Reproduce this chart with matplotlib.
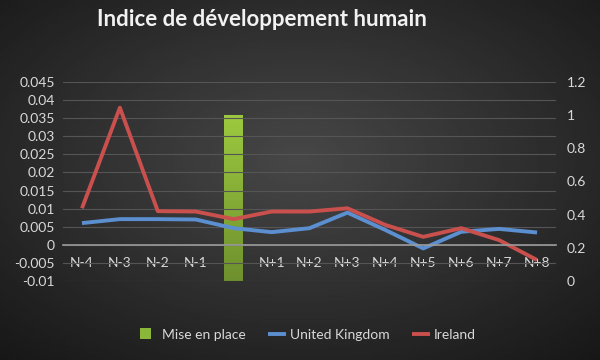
import numpy as np
import matplotlib
matplotlib.use('Agg')
import matplotlib.pyplot as plt
from matplotlib.ticker import FuncFormatter
from matplotlib.colors import LinearSegmentedColormap

plt.rcParams['font.family'] = ['Lato', 'DejaVu Sans']

# donnees
categories = ['N-4', 'N-3', 'N-2', 'N-1', '', 'N+1', 'N+2', 'N+3', 'N+4',
              'N+5', 'N+6', 'N+7', 'N+8']
uk = [0.0060, 0.0071, 0.0071, 0.0070, 0.0046, 0.0035, 0.0046, 0.0089,
      0.0041, -0.0010, 0.0036, 0.0044, 0.0034]
ireland = [0.0101, 0.0379, 0.0093, 0.0092, 0.0071, 0.0092, 0.0092, 0.0101,
           0.0055, 0.0022, 0.0046, 0.0013, -0.0042]
mise_idx = 4
mise_val = 1.0

txt = '#d9d9d9'
grid = '#555555'

fig = plt.figure(figsize=(6, 3.6), dpi=100)

# fond en degrade radial
bg = fig.add_axes([0, 0, 1, 1], zorder=-10)
yy, xx = np.mgrid[-1:1:200j, -1:1:300j]
r = np.sqrt((xx * 0.9) ** 2 + (yy * 0.9 + 0.1) ** 2)
bg.imshow(0.28 - 0.14 * np.clip(r, 0, 1.4), cmap='gray', vmin=0, vmax=1,
          aspect='auto', extent=[0, 1, 0, 1])
bg.axis('off')

ax = fig.add_axes([63 / 600, 1 - 281 / 360, (556 - 63) / 600, (281 - 82) / 360])
ax.patch.set_alpha(0)
ax2 = ax.twinx()
ax2.patch.set_alpha(0)

x = np.arange(len(categories))

# barre "mise en place" sur l'axe secondaire, avec degrade vert
bars = [0] * len(categories)
bars[mise_idx] = mise_val
bc = ax2.bar(x, bars, width=0.5, color='#8ab63a', zorder=1, label='Mise en place')
green = LinearSegmentedColormap.from_list('g', ['#6f902e', '#9cc93f'])
b = bc[mise_idx]
im = ax2.imshow(np.linspace(0, 1, 100).reshape(-1, 1), cmap=green, origin='lower',
                aspect='auto', zorder=1.1,
                extent=[b.get_x(), b.get_x() + b.get_width(), 0, b.get_height()])
im.set_clip_path(b)
ax2.set_ylim(0, 1.2)
ax2.set_xlim(-0.5, len(categories) - 0.5)
ax2.set_yticks(np.arange(0, 1.21, 0.2))
ax2.yaxis.set_major_formatter(FuncFormatter(lambda v, p: '%g' % round(v, 2)))

ax.set_zorder(ax2.get_zorder() + 1)
ax.plot(x, uk, color='#5b8fd0', lw=2.8, solid_capstyle='butt', label='United Kingdom')
ax.plot(x, ireland, color='#c9504d', lw=2.8, solid_capstyle='butt', label='Ireland')
ax.set_ylim(-0.01, 0.045)
ax.set_xlim(-0.5, len(categories) - 0.5)
ax.set_yticks(np.arange(-0.01, 0.0451, 0.005))
ax.yaxis.set_major_formatter(FuncFormatter(lambda v, p: '%g' % round(v, 4)))
ax.yaxis.grid(True, color=grid, lw=0.8)
ax.set_axisbelow(True)

ax.set_xticks(x)
ax.set_xticklabels(categories)
ax.spines['bottom'].set_position(('data', 0))
ax.spines['bottom'].set_color('#9a9a9a')
ax.spines['bottom'].set_linewidth(1.2)
for s in ['top', 'left', 'right']:
    ax.spines[s].set_visible(False)
for s in ['top', 'left', 'right', 'bottom']:
    ax2.spines[s].set_visible(False)
ax.tick_params(axis='x', length=0, pad=9, colors=txt, labelsize=10)
ax.tick_params(axis='y', length=0, pad=6, colors=txt, labelsize=10)
ax2.tick_params(axis='y', length=0, pad=8, colors=txt, labelsize=10)

fig.text(0.436, 0.945, 'Indice de développement humain', ha='center', va='center',
         color='#f2f2f2', fontsize=16, fontweight='bold')

h1, l1 = ax2.get_legend_handles_labels()
h2, l2 = ax.get_legend_handles_labels()
leg = fig.legend(h1 + h2, l1 + l2, loc='center', bbox_to_anchor=(0.513, 0.07),
                 ncol=3, frameon=False, fontsize=10, handlelength=1.3,
                 columnspacing=1.6, handletextpad=0.3)
leg.legend_handles[0].set_height(8)
leg.legend_handles[0].set_width(8)
for t in leg.get_texts():
    t.set_color(txt)

fig.savefig('out.png', dpi=100)
